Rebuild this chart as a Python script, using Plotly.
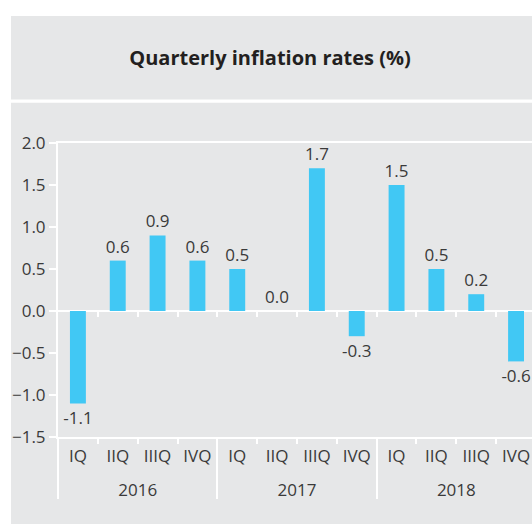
import plotly.graph_objects as go

# Quarterly inflation rates, 2016-2018
years = ["2016"] * 4 + ["2017"] * 4 + ["2018"] * 4
quarters = ["IQ", "IIQ", "IIIQ", "IVQ"] * 3
rates = [-1.1, 0.6, 0.9, 0.6, 0.5, 0.0, 1.7, -0.3, 1.5, 0.5, 0.2, -0.6]

W, H = 532, 525
ML, MR, MT, MB = 58, 0, 143, 88
PW, PH = W - ML - MR, H - MT - MB
Y_MIN, Y_MAX = -1.5, 2.0

PANEL = "#e6e7e8"
BAR = "#41c8f4"
INK = "#3a3a3a"
FONT = "Open Sans"

idx = list(range(len(rates)))
x_range = [-0.5, len(rates) - 0.6]

# category boundaries and year groups
boundaries = [i + 0.5 for i in idx[:-1]]
year_names = list(dict.fromkeys(years))
year_idx = [[i for i, y in enumerate(years) if y == name] for name in year_names]
year_centers = [sum(g) / len(g) for g in year_idx]
year_edges = [g[0] - 0.5 for g in year_idx] + [year_idx[-1][-1] + 0.5]


def px_x(px):
    return (px - ML) / PW


def px_y(py):
    return (H - MB - py) / PH


fig = go.Figure()
fig.add_trace(
    go.Bar(
        x=idx,
        y=rates,
        width=0.4,
        marker=dict(color=BAR, line=dict(width=0)),
        texttemplate="%{y:.1f}",
        textposition="outside",
        constraintext="none",
        textfont=dict(family=FONT, size=17, color=INK),
        cliponaxis=False,
        hoverinfo="skip",
    )
)
# empty traces so the overlay axes (zero-line ticks, year row) are rendered
for ax in ("x2", "x3"):
    fig.add_trace(go.Scatter(x=[], y=[], xaxis=ax, yaxis="y",
                             showlegend=False, hoverinfo="skip"))

# grey header and chart panels
fig.add_shape(type="rect", xref="paper", yref="paper", layer="below",
              x0=px_x(11), x1=px_x(W), y0=px_y(99.5), y1=px_y(16),
              fillcolor=PANEL, line=dict(width=0))
fig.add_shape(type="rect", xref="paper", yref="paper", layer="below",
              x0=px_x(11), x1=px_x(W), y0=px_y(524), y1=px_y(102.7),
              fillcolor=PANEL, line=dict(width=0))

tick_font = dict(family=FONT, size=17, color=INK)

fig.update_layout(
    width=W,
    height=H,
    margin=dict(l=ML, r=MR, t=MT, b=MB, pad=0),
    paper_bgcolor="white",
    plot_bgcolor="rgba(0,0,0,0)",
    showlegend=False,
    font=dict(family=FONT, size=17, color=INK),
    title=dict(
        text="Quarterly inflation rates (%)",
        x=270 / W, xanchor="center",
        y=1 - 58 / H, yanchor="middle",
        font=dict(family=FONT, size=20, color="#231f20", weight=700),
    ),
    # quarter labels, with ticks on the category boundaries
    xaxis=dict(
        range=x_range,
        tickvals=idx, ticktext=quarters, ticks="",
        ticklabelstandoff=3,
        minor=dict(tickvals=boundaries, ticks="outside", ticklen=5,
                   tickcolor="white", tickwidth=2, showgrid=False),
        showline=True, linecolor="white", linewidth=2, mirror=True,
        showgrid=False, zeroline=False,
        tickfont=tick_font,
    ),
    # boundary ticks under the zero line
    xaxis2=dict(
        overlaying="x", anchor="free",
        position=(0 - Y_MIN) / (Y_MAX - Y_MIN),
        range=x_range,
        tickvals=boundaries,
        ticks="outside", ticklen=5, tickcolor="white", tickwidth=2,
        showticklabels=False, showline=False, showgrid=False, zeroline=False,
    ),
    # year labels with group dividers
    xaxis3=dict(
        overlaying="x", anchor="y", side="bottom",
        range=x_range,
        tickvals=year_centers, ticktext=year_names, ticks="",
        ticklabelstandoff=41,
        minor=dict(tickvals=year_edges, ticks="outside", ticklen=61,
                   tickcolor="white", tickwidth=2, showgrid=False),
        showline=False, showgrid=False, zeroline=False,
        tickfont=tick_font,
    ),
    yaxis=dict(
        range=[Y_MIN, Y_MAX],
        dtick=0.5, tickformat=".1f",
        ticks="outside", ticklen=7, tickcolor="white", tickwidth=2,
        showline=True, linecolor="white", linewidth=2,
        zeroline=True, zerolinecolor="white", zerolinewidth=2,
        showgrid=False,
        tickfont=tick_font,
    ),
)

fig.write_html("out.html")
